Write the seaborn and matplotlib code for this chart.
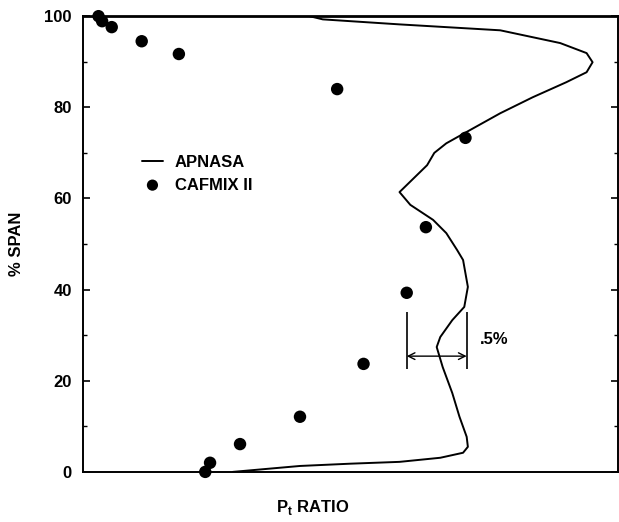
import numpy as np
import pandas as pd
import seaborn as sns
import matplotlib.pyplot as plt
from matplotlib.ticker import MultipleLocator, NullFormatter

# ---- data ----
# CAFMIX II points (Pt ratio, % span)
cafmix_ratio = [1.6013, 1.6016, 1.6024, 1.6049, 1.6080, 1.6212, 1.6319,
                1.6286, 1.6270, 1.6234, 1.6181, 1.6131, 1.6106, 1.6102]
cafmix_span = [100.0, 98.9, 97.6, 94.5, 91.7, 84.0, 73.3,
               53.7, 39.3, 23.7, 12.1, 6.1, 2.0, 0.0]

# APNASA profile
apnasa_ratio = [1.6125, 1.6181, 1.6223, 1.6264, 1.6298, 1.6317, 1.6321, 1.6320,
                1.6314, 1.6308, 1.6300, 1.6295, 1.6298, 1.6308, 1.6318, 1.6321,
                1.6317, 1.6312, 1.6303, 1.6292, 1.6273, 1.6264, 1.6287, 1.6293,
                1.6303, 1.6320, 1.6348, 1.6375, 1.6403, 1.6420, 1.6425, 1.6420,
                1.6398, 1.6348, 1.6264, 1.6200, 1.6189]
apnasa_span = [0.0, 1.3, 1.8, 2.2, 3.1, 4.2, 5.5, 7.7,
               12.1, 17.3, 23.0, 27.4, 29.6, 33.3, 36.2, 40.6,
               46.5, 48.7, 52.4, 55.3, 58.6, 61.4, 67.3, 70.0,
               72.1, 74.6, 78.7, 82.2, 85.5, 87.7, 89.9, 91.9,
               94.1, 96.9, 98.2, 99.3, 100.0]

# 0.5% scale bar
bar_left, bar_right = 1.6270, 1.6320
bar_bottom, bar_top, bar_arrow = 22.6, 35.1, 25.4

df_line = pd.DataFrame({'ratio': apnasa_ratio, 'span': apnasa_span})
df_pts = pd.DataFrame({'ratio': cafmix_ratio, 'span': cafmix_span})

# ---- plot ----
sns.set_theme(style="ticks")
plt.rcParams['font.family'] = ['Liberation Sans', 'DejaVu Sans']
plt.rcParams['font.weight'] = 'bold'
plt.rcParams['axes.labelweight'] = 'bold'
plt.rcParams['mathtext.default'] = 'bf'
plt.rcParams['text.color'] = 'black'
plt.rcParams['axes.labelcolor'] = 'black'

fig = plt.figure(figsize=(6.19, 5.22), dpi=100)
ax = fig.add_axes([0.134, 0.096, 0.864, 0.873])

sns.lineplot(data=df_line, x='ratio', y='span', sort=False, estimator=None,
             color='black', linewidth=1.4, ax=ax, label='APNASA')
sns.scatterplot(data=df_pts, x='ratio', y='span', color='black', s=80,
                edgecolor='none', ax=ax, label='CAFMIX II', clip_on=False, zorder=3)

# scale bar
ax.vlines([bar_left, bar_right], bar_bottom, bar_top, color='black', linewidth=1.2)
ax.annotate('', xy=(bar_left, bar_arrow), xytext=(bar_right, bar_arrow),
            arrowprops=dict(arrowstyle='<->', color='black', lw=1.0,
                            shrinkA=0, shrinkB=0))
ax.text(bar_right + 0.0011, 29.0, '.5%', fontsize=12, va='center', ha='left',
        color='black')

ax.set_xlim(1.600, 1.6446)
ax.set_ylim(0, 100)
ax.set_xticks([])
ax.yaxis.set_major_locator(MultipleLocator(20))
ax.yaxis.set_minor_locator(MultipleLocator(10))
ax.yaxis.set_minor_formatter(NullFormatter())
ax.tick_params(axis='y', which='both', direction='in', left=True, right=True,
               labelsize=12, pad=8, colors='black')
ax.tick_params(axis='y', which='major', length=5, width=1.2)
ax.tick_params(axis='y', which='minor', length=3, width=1.0)

for name, spine in ax.spines.items():
    spine.set_visible(True)
    spine.set_color('black')
    spine.set_linewidth(1.4)
ax.spines['top'].set_linewidth(2.0)

ax.set_xlabel('P$_\\mathregular{t}$ RATIO', fontsize=12)
ax.xaxis.set_label_coords(0.43, -0.057)
ax.set_ylabel('% SPAN', fontsize=12)
ax.yaxis.set_label_coords(-0.110, 0.5)

leg = ax.legend(loc='upper left', bbox_to_anchor=(0.098, 0.71), frameon=False,
                fontsize=12, handlelength=1.25, handletextpad=0.7,
                labelspacing=0.45, borderaxespad=0, markerscale=0.9)
for t in leg.get_texts():
    t.set_color('black')

fig.savefig('out.png', dpi=100)
